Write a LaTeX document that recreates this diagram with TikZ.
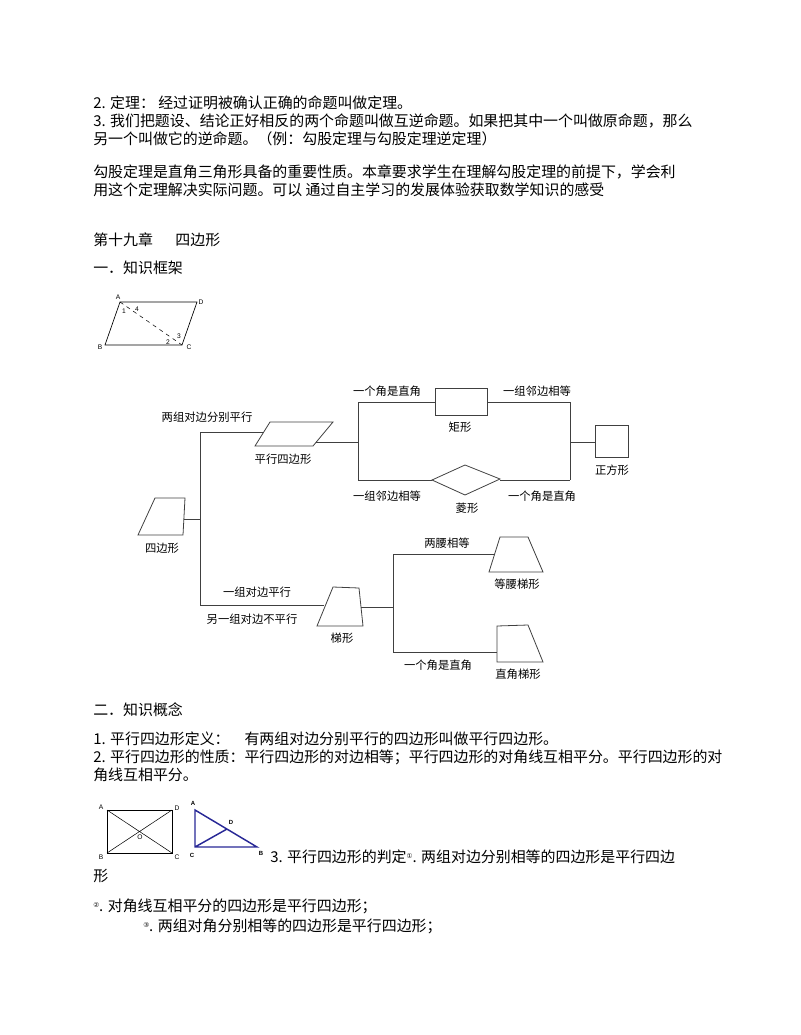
\documentclass[tikz,border=0pt]{standalone}
\usepackage{fontspec}
\setmainfont{Liberation Sans}
\newfontfamily\cjk{Noto Sans CJK SC}
\newfontfamily\dv{DejaVu Sans}
\definecolor{navy}{RGB}{40,40,150}
\begin{document}
\begin{tikzpicture}[x=0.75pt,y=-0.75pt,
  body/.style={anchor=west,inner sep=0pt,font=\cjk\fontsize{11.2}{13}\selectfont},
  lab/.style={inner sep=0pt,font=\cjk\fontsize{8.5}{10}\selectfont},
  shp/.style={draw=black!75,line width=0.6pt},
  ln/.style={draw=black!75,line width=0.6pt},
  tiny/.style={inner sep=0pt,font=\fontsize{5}{6}\selectfont}]
\useasboundingbox (0,0) rectangle (800,1035);
% body text
\node[body] (t1) at (93,103) {2. 定理： 经过证明被确认正确的命题叫做定理。};
\node[body] (t2) at (93,121) {3. 我们把题设、结论正好相反的两个命题叫做互逆命题。如果把其中一个叫做原命题，那么};
\node[body] (t3) at (93,139) {另一个叫做它的逆命题。（例：勾股定理与勾股定理逆定理）};
\node[body] (t4) at (93,172) {勾股定理是直角三角形具备的重要性质。本章要求学生在理解勾股定理的前提下，学会利};
\node[body] (t5) at (93,190) {用这个定理解决实际问题。可以 通过自主学习的发展体验获取数学知识的感受};
\node[body] (t6) at (93,240) {第十九章\hspace{1.5em}四边形};
\node[body] (t7) at (93,268) {一．知识框架};
\node[body] (t8) at (93,710) {二．知识概念};
\node[body] (t9) at (93,739) {1. 平行四边形定义：\hspace{1em}有两组对边分别平行的四边形叫做平行四边形。};
\node[body] (t10) at (93,757) {2. 平行四边形的性质：平行四边形的对边相等；平行四边形的对角线互相平分。平行四边形的对};
\node[body] (t11) at (93,775) {角线互相平分。};
\node[body] (t12) at (270,857) {3. 平行四边形的判定\raisebox{0.5ex}{\dv\tiny①}. 两组对边分别相等的四边形是平行四边};
\node[body] (t13) at (93,876) {形};
\node[body] (t14) at (93,906) {\raisebox{0.5ex}{\dv\tiny②}. 对角线互相平分的四边形是平行四边形；};
\node[body] (t15) at (143,926) {\raisebox{0.5ex}{\dv\tiny③}. 两组对角分别相等的四边形是平行四边形；};
% top small parallelogram
\coordinate (pA) at (120,302); \coordinate (pD) at (197,302);
\coordinate (pB) at (105,345); \coordinate (pC) at (182,345);
\draw[line width=0.5pt] (pA)--(pD)--(pC)--(pB)--cycle;
\draw[line width=0.4pt,dashed] (pA)--(pC);
\node[tiny] (lA) at (118,297) {A}; \node[tiny] (lD) at (201,302) {D};
\node[tiny] (lB) at (100,347) {B}; \node[tiny] (lC) at (189,347) {C};
\node[tiny] (l1) at (124,311) {1}; \node[tiny] (l4) at (137,309) {4};
\node[tiny] (l2) at (168,342) {2}; \node[tiny] (l3) at (179,336) {3};
% framework diagram
\node[lab] (q0) at (162,548) {四边形};
\draw[shp] (138,535)--(155,498)--(185,498)--(183,535)--cycle;
\draw[ln] (184,519)--(200,519);
\draw[ln] (200,432)--(200,605);
\draw[ln] (200,432)--(264,432);
\node[lab] (tx1) at (207,417) {两组对边分别平行};
\draw[shp] (255,446)--(270,422)--(333,422)--(313,446)--cycle;
\node[lab] (pg) at (283,459) {平行四边形};
\draw[ln] (316,442)--(358,442);
\draw[ln] (358,402)--(358,480);
\draw[ln] (358,402)--(435,402);
\node[lab] (tx2) at (387,391) {一个角是直角};
\draw[shp] (435,388) rectangle (487,415);
\node[lab] (jx) at (460,427) {矩形};
\draw[ln] (487,402)--(570,402)--(570,480);
\node[lab] (tx3) at (537,391) {一组邻边相等};
\draw[ln] (570,442)--(595,442);
\draw[shp] (595,425) rectangle (628,457);
\node[lab] (zf) at (612,470) {正方形};
\draw[ln] (358,480)--(432,480);
\draw[shp] (432,480)--(465,465)--(500,479)--(465,495)--cycle;
\draw[ln] (500,480)--(570,480);
\node[lab] (tx4) at (387,496) {一组邻边相等};
\node[lab] (lx) at (467,508) {菱形};
\node[lab] (tx5) at (542,496) {一个角是直角};
\draw[ln] (200,605)--(324,605);
\node[lab] (tx6) at (257,592) {一组对边平行};
\node[lab] (tx7) at (252,619) {另一组对边不平行};
\draw[shp] (317,626)--(333,587)--(359,588)--(363,626)--cycle;
\node[lab] (tx) at (342,638) {梯形};
\draw[ln] (361,607)--(393,607);
\draw[ln] (393,554)--(393,652);
\draw[ln] (393,554)--(495,554);
\node[lab] (tx8) at (447,543) {两腰相等};
\draw[shp] (489,572)--(500,537)--(528,537)--(543,572)--cycle;
\node[lab] (dy) at (517,584) {等腰梯形};
\draw[ln] (393,652)--(497,652);
\node[lab] (tx9) at (438,665) {一个角是直角};
\draw[shp] (497,662)--(497,626)--(528,625)--(543,662)--cycle;
\node[lab] (zj) at (518,674) {直角梯形};
% rectangle ABCD with diagonals
\coordinate (rA) at (107,810); \coordinate (rD) at (172,810);
\coordinate (rB) at (107,853); \coordinate (rC) at (172,853);
\draw[line width=0.5pt] (rA)--(rD)--(rC)--(rB)--cycle;
\draw[line width=0.4pt] (rA)--(rC) (rB)--(rD);
\node[tiny] (qa) at (101,807) {A}; \node[tiny] (qd) at (177,808) {D};
\node[tiny] (qb) at (101,857) {B}; \node[tiny] (qc) at (177,857) {C};
\node[tiny] (qo) at (140,837) {O};
% triangle
\coordinate (tA) at (195,810); \coordinate (tC) at (195,847);
\coordinate (tB) at (257,847); \coordinate (tD) at (227,829);
\draw[navy,line width=1.1pt] (tA)--(tB)--(tC)--cycle (tC)--(tD);
\node[tiny,font=\bfseries\fontsize{4.5}{5}\selectfont] (ua) at (193,803) {A};
\node[tiny,font=\bfseries\fontsize{4.5}{5}\selectfont] (ud) at (231,822) {D};
\node[tiny,font=\bfseries\fontsize{4.5}{5}\selectfont] (uc) at (192,855) {C};
\node[tiny,font=\bfseries\fontsize{4.5}{5}\selectfont] (ub) at (261,853) {B};
\end{tikzpicture}
\end{document}
